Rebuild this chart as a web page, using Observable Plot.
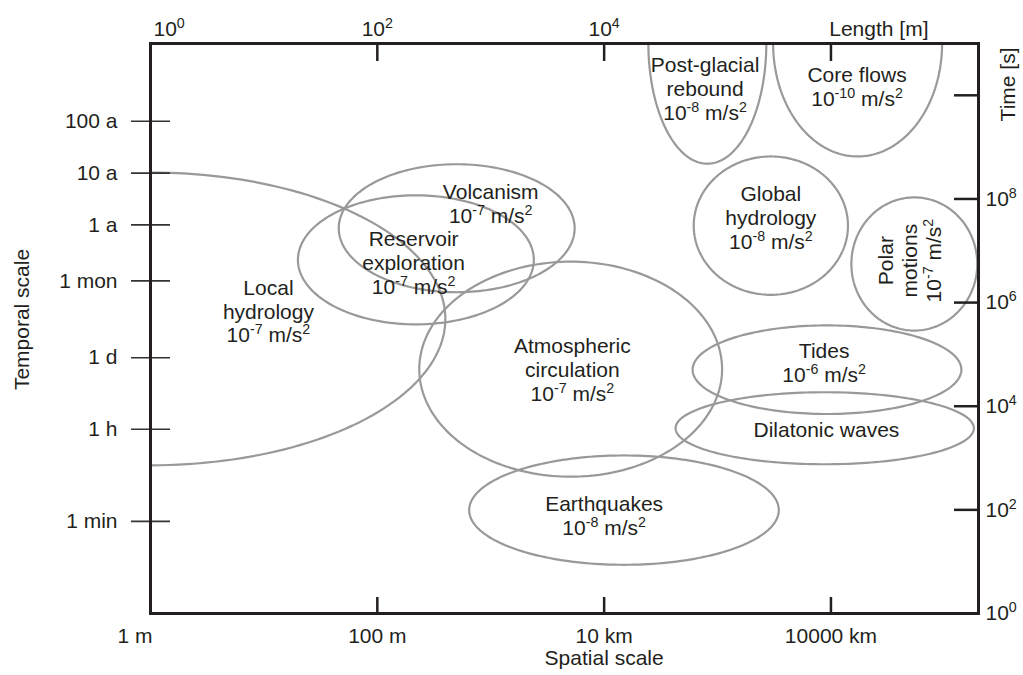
<!DOCTYPE html>
<html><head><meta charset="utf-8">
<script src="https://cdn.jsdelivr.net/npm/d3@7"></script>
<script src="https://cdn.jsdelivr.net/npm/@observablehq/plot@0.6"></script>
<style>body{margin:0;background:#fff}</style>
</head><body><div id="chart"></div>
<script>
// Regions: extents as log10 of length [m] and log10 of time [s]
const regionNames = ["Local hydrology","Volcanism","Reservoir exploration","Atmospheric circulation","Tides","Dilatonic waves","Earthquakes","Polar motions","Global hydrology","Post-glacial rebound","Core flows"];
const lenLo  = [-2.60, 1.66, 1.30, 2.37, 4.78, 4.63, 2.81, 6.18, 4.79, 4.39, 5.49];
const lenHi  = [ 2.60, 3.74, 3.38, 5.04, 7.15, 7.26, 5.54, 7.29, 6.15, 5.43, 6.98];
const timeLo = [ 2.86, 6.20, 5.58, 2.64, 3.85, 2.88, 0.94, 5.46, 6.15, 8.68, 8.82];
const timeHi = [ 8.51, 8.67, 8.07, 6.79, 5.56, 4.27, 3.05, 8.03, 8.82, 13.32, 13.18];

// Labels (text and anchor in log10 data units)
const labelText = ["Local\nhydrology\n10^-7 m/s^2","Volcanism\n10^-7 m/s^2","Reservoir\nexploration\n10^-7 m/s^2","Atmospheric\ncirculation\n10^-7 m/s^2","Tides\n10^-6 m/s^2","Dilatonic waves","Earthquakes\n10^-8 m/s^2","Polar\nmotions\n10^-7 m/s^2","Global\nhydrology\n10^-8 m/s^2","Post-glacial\nrebound\n10^-8 m/s^2","Core flows\n10^-10 m/s^2"];
const labelLen  = [1.04, 3.00, 2.32, 3.72, 5.94, 5.96, 4.00, 6.69, 5.47, 4.89, 6.23];
const labelTime = [5.84, 7.92, 6.77, 4.71, 4.84, 3.55, 1.89, 6.81, 7.64, 10.14, 10.18];
const labelRotate = [0,0,0,0,0,0,0,-90,0,0,0];

// Axes
const lengthTicks = [1, 100, 1e4, 1e6];
const lengthTickLabels = ["1 m", "100 m", "10 km", "10000 km"];
const topTicks = [1e2, 1e4, 1e6];
const topLabelTicks = [1, 1e2, 1e4];
const timeTicks = [3.156e9, 3.156e8, 3.156e7, 2.63e6, 86400, 3600, 60];
const timeTickLabels = ["100 a", "10 a", "1 a", "1 mon", "1 d", "1 h", "1 min"];
const secondTicks = [1e2, 1e4, 1e6, 1e8, 1e10];
const secondLabelTicks = [1, 1e2, 1e4, 1e6, 1e8];

const ink = "#231f20";
const pow = d => "10^" + Math.round(Math.log10(d));

const outline = [];
regionNames.forEach((name, i) => {
  const cx = (lenLo[i] + lenHi[i]) / 2, rx = (lenHi[i] - lenLo[i]) / 2;
  const cy = (timeLo[i] + timeHi[i]) / 2, ry = (timeHi[i] - timeLo[i]) / 2;
  for (let k = 0; k < 200; k++) {
    const t = 2 * Math.PI * k / 200;
    outline.push({name, x: 10 ** (cx + rx * Math.cos(t)), y: 10 ** (cy + ry * Math.sin(t))});
  }
});
const labels = labelText.map((text, i) => ({text, x: 10 ** labelLen[i], y: 10 ** labelTime[i], r: labelRotate[i]}));

const chart = Plot.plot({
  width: 1023, height: 675,
  marginLeft: 150, marginRight: 45, marginTop: 43, marginBottom: 62,
  style: {fontFamily: "'Liberation Sans', Arial, sans-serif", fontSize: "21px", background: "#fff", color: ink},
  x: {type: "log", domain: [1, 2e7], axis: null},
  y: {type: "log", domain: [1, 1e11], axis: null},
  marks: [
    Plot.line(outline, {x: "x", y: "y", z: "name", curve: "linear-closed", stroke: "#999", strokeWidth: 2.2, clip: true}),
    Plot.text(labels.filter(d => d.r === 0), {x: "x", y: "y", text: "text", lineHeight: 1.14, fill: ink}),
    Plot.text(labels.filter(d => d.r !== 0), {x: "x", y: "y", text: "text", rotate: -90, lineHeight: 1.14, fill: ink}),
    // bottom axis
    Plot.axisX({anchor: "bottom", label: null, ticks: lengthTicks.slice(1), tickSize: 16, dy: -16, tickFormat: () => "", stroke: ink, strokeWidth: 2.5}),
    Plot.axisX({anchor: "bottom", label: null, ticks: lengthTicks.slice(1), tickSize: 0, tickPadding: 15, tickFormat: d => lengthTickLabels[lengthTicks.indexOf(d)], fill: ink}),
    Plot.axisX({anchor: "bottom", label: null, ticks: lengthTicks.slice(0, 1), tickSize: 0, tickPadding: 15, textAnchor: "end", dx: 2, tickFormat: d => lengthTickLabels[lengthTicks.indexOf(d)], fill: ink}),
    // top axis
    Plot.axisX({anchor: "top", label: null, ticks: topTicks, tickSize: 17, dy: 17, tickFormat: () => "", stroke: ink, strokeWidth: 2.5}),
    Plot.axisX({anchor: "top", label: null, ticks: topLabelTicks.slice(1), tickSize: 0, tickPadding: 8, tickFormat: pow, fill: ink}),
    Plot.axisX({anchor: "top", label: null, ticks: topLabelTicks.slice(0, 1), tickSize: 0, tickPadding: 8, textAnchor: "start", dx: 3, tickFormat: pow, fill: ink}),
    // left axis
    Plot.axisY({anchor: "left", label: null, ticks: timeTicks, tickSize: 39, dx: 20, tickFormat: () => "", stroke: "#333", strokeWidth: 1.6}),
    Plot.text(timeTicks, {y: d => d, text: (d, i) => timeTickLabels[i], frameAnchor: "left", textAnchor: "end", dx: -33, fill: ink}),
    // right axis
    Plot.axisY({anchor: "right", label: null, ticks: secondTicks, tickSize: 25, dx: -25, tickFormat: () => "", stroke: ink, strokeWidth: 2.5}),
    Plot.axisY({anchor: "right", label: null, ticks: secondLabelTicks, tickSize: 0, tickPadding: 7, tickFormat: pow, fill: ink}),
    Plot.frame({stroke: ink, strokeWidth: 3}),
    // titles
    Plot.text(["Temporal scale"], {text: d => d, frameAnchor: "left", rotate: -90, textAnchor: "middle", dx: -128, dy: -9, fill: ink}),
    Plot.text(["Spatial scale"], {text: d => d, x: () => 1e4, frameAnchor: "bottom", dy: 51, fill: ink}),
    Plot.text(["Length [m]"], {text: d => d, frameAnchor: "top-right", textAnchor: "end", lineAnchor: "bottom", dx: -50, dy: -8, fill: ink}),
    Plot.text(["Time [s]"], {text: d => d, frameAnchor: "top-right", rotate: -90, textAnchor: "end", lineAnchor: "middle", dx: 30, dy: 4, fill: ink})
  ]
});

// superscripts: "^xyz" -> raised tspan
const NS = "http://www.w3.org/2000/svg";
[...chart.querySelectorAll("text, tspan")]
  .filter(el => !el.querySelector("tspan") && el.textContent.includes("^"))
  .forEach(el => {
    const parts = el.textContent.split(/\^(\S+?)(?=\s|$)/);
    el.textContent = "";
    parts.forEach((p, i) => {
      if (!p) return;
      if (i % 2) {
        const t = document.createElementNS(NS, "tspan");
        t.setAttribute("baseline-shift", "super");
        t.setAttribute("font-size", "0.68em");
        t.textContent = p;
        el.appendChild(t);
      } else el.appendChild(document.createTextNode(p));
    });
  });
document.getElementById("chart").appendChild(chart);
</script>
</body></html>
